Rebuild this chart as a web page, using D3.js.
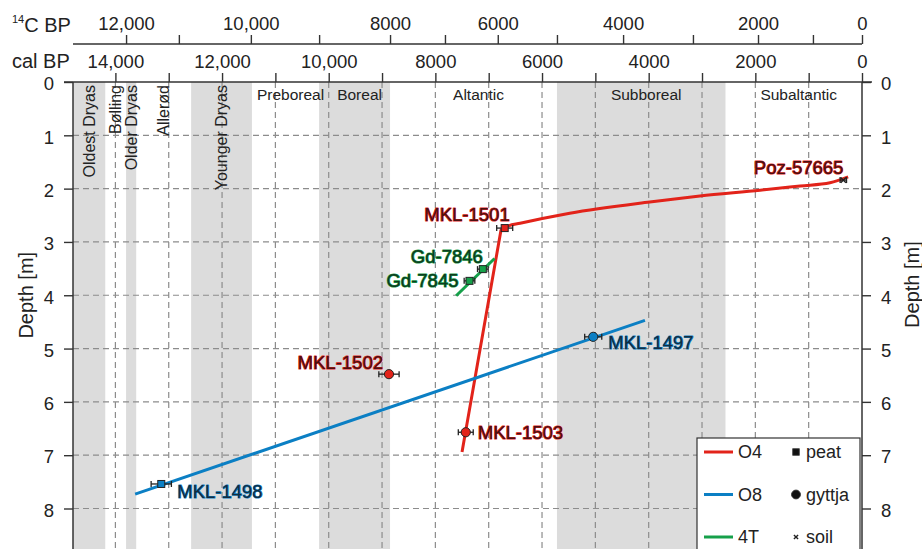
<!DOCTYPE html>
<html>
<head>
<meta charset="utf-8">
<script src="https://cdn.jsdelivr.net/npm/d3@7"></script>
<style>
  html, body { margin: 0; padding: 0; background: #fff; }
  svg { display: block; font-family: "Liberation Sans", Arial, sans-serif; }
</style>
</head>
<body>
<svg id="chart" width="922" height="549"></svg>
<script>
// ---- calendar (cal BP) axis ----
const calTicks = [0, 1000, 2000, 3000, 4000, 5000, 6000, 7000, 8000, 9000, 10000, 11000, 12000, 13000, 14000];
const calLabelled = [0, 2000, 4000, 6000, 8000, 10000, 12000, 14000];

// ---- radiocarbon (14C BP) axis and its calibrated position ----
const c14Ticks = [0, 1000, 2000, 3000, 4000, 5000, 6000, 7000, 8000, 9000, 10000, 11000, 12000];
const c14AsCal = [0, 920, 1950, 3170, 4480, 5720, 6830, 7820, 8850, 10180, 11460, 12810, 13800];
const c14Labelled = [0, 2000, 4000, 6000, 8000, 10000, 12000];

// ---- depth axis ----
const depthTicks = [0, 1, 2, 3, 4, 5, 6, 7, 8];

// ---- chronozones (cal BP, older bound -> younger bound) ----
const zoneNames   = ["Oldest Dryas", "Bølling", "Older Dryas", "Allerød", "Younger Dryas", "Preboreal", "Boreal", "Altantic", "Subboreal", "Subaltantic"];
const zoneOlder   = [14800, 14190, 13800, 13610, 12580, 11440, 10180, 8850, 5720, 2560];
const zoneYounger = [14190, 13800, 13610, 12580, 11440, 10180, 8850, 5720, 2560, 0];
const zoneShaded  = [true, false, true, false, true, false, true, false, true, false];
const zoneUpright = [true, true, true, true, true, false, false, false, false, false];

// ---- age-depth models ----
// O4: straight lower section up to the bend, smooth upper section
const o4Cal   = [7500, 6770, 6660, 6410, 5480, 3980, 3040, 1910, 1160, 600, 260];
const o4Depth = [6.94, 2.78, 2.71, 2.65, 2.46, 2.25, 2.14, 2.03, 1.95, 1.89, 1.78];
const o8Cal   = [13630, 4070];
const o8Depth = [7.73, 4.47];
const t4Cal   = [7610, 6890];
const t4Depth = [4.01, 3.31];

// ---- dated samples ----
const sampleNames    = ["Poz-57665", "MKL-1501", "MKL-1502", "MKL-1503", "MKL-1497", "MKL-1498", "Gd-7846", "Gd-7845"];
const sampleSeries   = ["O4", "O4", "O4", "O4", "O8", "O8", "4T", "4T"];
const sampleMaterial = ["soil", "peat", "gyttja", "gyttja", "gyttja", "peat", "peat", "peat"];
const sampleCal      = [350, 6700, 8870, 7430, 5040, 13140, 7110, 7360];
const sampleErr      = [60, 150, 190, 140, 160, 190, 100, 100];
const sampleDepth    = [1.84, 2.74, 5.48, 6.57, 4.78, 7.54, 3.51, 3.73];

const seriesNames = ["O4", "O8", "4T"];
const materials = ["peat", "gyttja", "soil"];

// ---- styling ----
const colour = { "O4": "#e2231a", "O8": "#0b7fc4", "4T": "#16a04a" };
const labelFill = { "O4": "#4a1010", "O8": "#132c40", "4T": "#0f3a1e" };
const labelPlacement = {
  "Poz-57665": { anchor: "end",   dx: 0,   dy: -13 },
  "MKL-1501":  { anchor: "end",   dx: 5,   dy: -14 },
  "MKL-1502":  { anchor: "end",   dx: -6,  dy: -12 },
  "MKL-1503":  { anchor: "start", dx: 12,  dy: 0 },
  "MKL-1497":  { anchor: "start", dx: 15,  dy: 6 },
  "MKL-1498":  { anchor: "start", dx: 16,  dy: 8 },
  "Gd-7846":   { anchor: "end",   dx: 0,   dy: -13 },
  "Gd-7845":   { anchor: "end",   dx: -11, dy: 0 }
};

const W = 922, H = 549;
const plot = { left: 73, right: 862, top: 82, bottom: H };

const svg = d3.select("#chart");

const x = d3.scaleLinear().domain([14795, 0]).range([plot.left, plot.right]);
const y = d3.scaleLinear().domain([0, 8]).range([plot.top, 508.5]);
const c14x = d3.scaleLinear().domain(c14Ticks).range(c14AsCal.map(v => x(v)));

const fmt = v => v >= 10000 ? d3.format(",")(v) : String(v);

// chronozone bands
const zones = zoneNames.map((n, i) => ({ name: n, older: zoneOlder[i], younger: zoneYounger[i], shaded: zoneShaded[i], upright: zoneUpright[i] }));
svg.append("g").selectAll("rect").data(zones.filter(z => z.shaded)).join("rect")
  .attr("x", d => Math.max(plot.left, x(d.older)))
  .attr("width", d => x(d.younger) - Math.max(plot.left, x(d.older)))
  .attr("y", plot.top).attr("height", plot.bottom - plot.top)
  .attr("fill", "#dcdcdc");

// dashed grid
const grid = svg.append("g").attr("stroke", "#8c8c8c").attr("stroke-width", 1.2).attr("stroke-dasharray", "6,4").attr("fill", "none");
grid.selectAll("line.v").data(calTicks.filter(t => t > 0)).join("line").attr("class", "v")
  .attr("x1", d => x(d)).attr("x2", d => x(d)).attr("y1", plot.top).attr("y2", plot.bottom);
grid.selectAll("line.h").data(depthTicks.filter(t => t > 0)).join("line").attr("class", "h")
  .attr("x1", plot.left).attr("x2", plot.right).attr("y1", d => y(d)).attr("y2", d => y(d));

// chronozone labels
const zl = svg.append("g").attr("fill", "#222");
zl.selectAll("text.up").data(zones.filter(z => z.upright)).join("text").attr("class", "up")
  .attr("transform", d => `translate(${(Math.max(plot.left, x(d.older)) + x(d.younger)) / 2 + 5.5},${plot.top + 3}) rotate(-90)`)
  .attr("text-anchor", "end").attr("font-size", 16).text(d => d.name);
zl.selectAll("text.flat").data(zones.filter(z => !z.upright)).join("text").attr("class", "flat")
  .attr("x", d => (x(d.older) + x(d.younger)) / 2 + 5).attr("y", plot.top + 18)
  .attr("text-anchor", "middle").attr("font-size", 15.5).text(d => d.name);

// axes
const axisStroke = "#333";
const calAxis = d3.axisTop(x).tickValues(calTicks).tickSize(9).tickFormat(d => calLabelled.includes(d) ? fmt(d) : "");
const gCal = svg.append("g").attr("transform", `translate(0,${plot.top})`).call(calAxis);
const c14Axis = d3.axisTop(c14x).tickValues(c14Ticks).tickSize(9).tickFormat(d => c14Labelled.includes(d) ? fmt(d) : "");
const gC14 = svg.append("g").attr("transform", `translate(0,44)`).call(c14Axis);
const depthLeft = d3.axisLeft(y).tickValues(depthTicks).tickSize(9).tickPadding(10);
const gL = svg.append("g").attr("transform", `translate(${plot.left},0)`).call(depthLeft);
const depthRight = d3.axisRight(y).tickValues(depthTicks).tickSize(9).tickPadding(10);
const gR = svg.append("g").attr("transform", `translate(${plot.right},0)`).call(depthRight);

[gCal, gC14, gL, gR].forEach(g => {
  g.selectAll(".domain").remove();
  g.selectAll(".tick line").attr("stroke", axisStroke).attr("stroke-width", 1.4);
  g.selectAll(".tick text").attr("font-size", 18.5).attr("fill", "#222").attr("font-family", "Liberation Sans, Arial, sans-serif");
});
gCal.selectAll(".tick text").attr("dy", "-0.1em");
gC14.selectAll(".tick text").attr("dy", "-0.1em");
gL.selectAll(".tick text").attr("dy", "0.42em");
gR.selectAll(".tick text").attr("dy", "0.42em");

// axis lines
svg.append("line").attr("x1", 64).attr("x2", 872).attr("y1", plot.top).attr("y2", plot.top).attr("stroke", axisStroke).attr("stroke-width", 1.5);
svg.append("line").attr("x1", plot.left).attr("x2", plot.right).attr("y1", 44).attr("y2", 44).attr("stroke", axisStroke).attr("stroke-width", 1.5);
svg.append("line").attr("x1", plot.left).attr("x2", plot.left).attr("y1", plot.top).attr("y2", plot.bottom).attr("stroke", axisStroke).attr("stroke-width", 1.5);
svg.append("line").attr("x1", plot.right).attr("x2", plot.right).attr("y1", plot.top).attr("y2", plot.bottom).attr("stroke", axisStroke).attr("stroke-width", 1.5);

// axis titles
const t14 = svg.append("text").attr("x", 12).attr("y", 32).attr("font-size", 20).attr("fill", "#222");
t14.append("tspan").attr("font-size", 11).attr("dy", -9).text("14");
t14.append("tspan").attr("dy", 9).text("C BP");
svg.append("text").attr("x", 12).attr("y", 68).attr("font-size", 20).attr("fill", "#222").text("cal BP");
svg.append("text").attr("transform", `translate(33,${y(4)}) rotate(-90)`).attr("text-anchor", "middle")
  .attr("font-size", 20).attr("fill", "#222").text("Depth [m]");
svg.append("text").attr("transform", `translate(919,${y(3.8)}) rotate(-90)`).attr("text-anchor", "middle")
  .attr("font-size", 20).attr("fill", "#222").text("Depth [m]");

// age-depth lines
const smooth = d3.line().x(d => x(d[0])).y(d => y(d[1])).curve(d3.curveMonotoneX);
const straight = d3.line().x(d => x(d[0])).y(d => y(d[1]));
const o4Pts = o4Cal.map((c, i) => [c, o4Depth[i]]);
const o4Path = straight(o4Pts.slice(0, 2)) + "L" + smooth(o4Pts.slice(1)).slice(1);
const paths = [
  { s: "O4", d: o4Path },
  { s: "O8", d: straight(o8Cal.map((c, i) => [c, o8Depth[i]])) },
  { s: "4T", d: straight(t4Cal.map((c, i) => [c, t4Depth[i]])) }
];
svg.append("g").selectAll("path").data(paths).join("path")
  .attr("d", d => d.d).attr("fill", "none")
  .attr("stroke", d => colour[d.s]).attr("stroke-width", 3).attr("stroke-linejoin", "round");

// samples: error bars, markers, labels
const samples = sampleNames.map((n, i) => ({ name: n, s: sampleSeries[i], m: sampleMaterial[i], cal: sampleCal[i], err: sampleErr[i], depth: sampleDepth[i] }));

const eb = svg.append("g").attr("stroke", "#222").attr("stroke-width", 1.3);
samples.forEach(d => {
  const x0 = x(d.cal + d.err), x1 = x(d.cal - d.err), yy = y(d.depth);
  eb.append("line").attr("x1", x0).attr("x2", x1).attr("y1", yy).attr("y2", yy);
  eb.append("line").attr("x1", x0).attr("x2", x0).attr("y1", yy - 3).attr("y2", yy + 3);
  eb.append("line").attr("x1", x1).attr("x2", x1).attr("y1", yy - 3).attr("y2", yy + 3);
});

function drawMarker(g, m, cx, cy, fill, scale) {
  if (m === "peat") {
    const s = 7 * scale;
    g.append("rect").attr("x", cx - s / 2).attr("y", cy - s / 2).attr("width", s).attr("height", s)
      .attr("fill", fill).attr("stroke", "#222").attr("stroke-width", 1);
  } else if (m === "gyttja") {
    g.append("circle").attr("cx", cx).attr("cy", cy).attr("r", 4.6 * scale)
      .attr("fill", fill).attr("stroke", "#222").attr("stroke-width", 1);
  } else {
    const s = 2.6 * scale;
    g.append("path").attr("d", `M${cx - s},${cy - s}L${cx + s},${cy + s}M${cx - s},${cy + s}L${cx + s},${cy - s}`)
      .attr("stroke", "#222").attr("stroke-width", 1.4).attr("fill", "none");
  }
}
const mk = svg.append("g");
samples.forEach(d => drawMarker(mk, d.m, x(d.cal), y(d.depth), colour[d.s], 1));

svg.append("g").selectAll("text").data(samples).join("text")
  .attr("x", d => x(d.cal) + labelPlacement[d.name].dx)
  .attr("y", d => y(d.depth) + labelPlacement[d.name].dy)
  .attr("dy", "0.35em")
  .attr("text-anchor", d => labelPlacement[d.name].anchor)
  .attr("font-size", 18.5)
  .attr("fill", d => labelFill[d.s])
  .attr("stroke", d => colour[d.s]).attr("stroke-width", 1.2)
  .attr("paint-order", "stroke")
  .attr("stroke-linejoin", "round")
  .text(d => d.name);

// legend
const lg = svg.append("g");
lg.append("rect").attr("x", 697).attr("y", 438).attr("width", 163).attr("height", 130)
  .attr("fill", "#fff").attr("stroke", "#333").attr("stroke-width", 1.2);
seriesNames.forEach((s, i) => {
  const yy = 452 + i * 42.5;
  lg.append("line").attr("x1", 704).attr("x2", 733).attr("y1", yy).attr("y2", yy)
    .attr("stroke", colour[s]).attr("stroke-width", 3);
  lg.append("text").attr("x", 738).attr("y", yy).attr("dy", "0.35em").attr("font-size", 18).attr("fill", "#222").text(s);
});
materials.forEach((m, i) => {
  const yy = 452 + i * 42.5;
  drawMarker(lg, m, 796, yy, "#111", m === "gyttja" ? 0.95 : m === "peat" ? 0.9 : 0.8);
  lg.append("text").attr("x", 806).attr("y", yy).attr("dy", "0.35em").attr("font-size", 18).attr("fill", "#222").text(m);
});
</script>
</body>
</html>
